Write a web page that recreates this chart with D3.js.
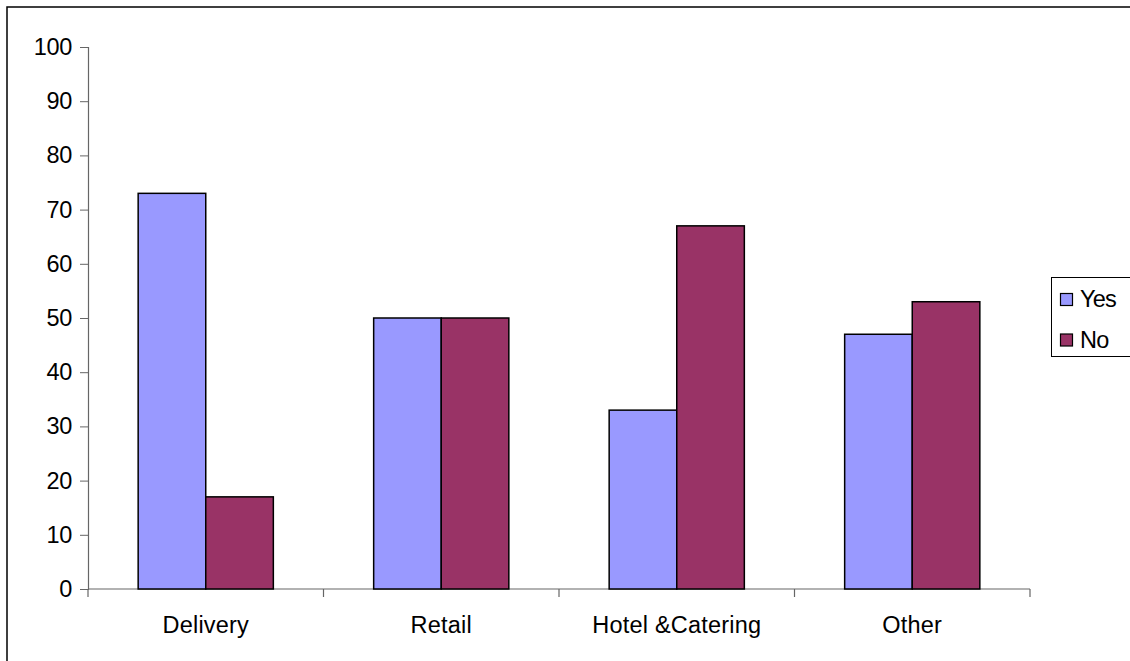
<!DOCTYPE html>
<html><head><meta charset="utf-8">
<script src="https://cdn.jsdelivr.net/npm/d3@7"></script>
<style>body{margin:0;background:#fff}svg{display:block;font-family:"Liberation Sans",Arial,sans-serif}</style>
</head><body>
<svg id="c" width="1130" height="661"></svg>
<script>
const categories = ["Delivery", "Retail", "Hotel &Catering", "Other"];
const seriesNames = ["Yes", "No"];
const yesValues = [73, 50, 33, 47];
const noValues = [17, 50, 67, 53];
const yTicks = [0, 10, 20, 30, 40, 50, 60, 70, 80, 90, 100];
const colors = ["#9999ff", "#993366"];

(function () {
const FS = 23.5;
const svg = d3.select("#c");
svg.append("rect").attr("x", 7).attr("y", 7).attr("width", 1140).attr("height", 680)
  .attr("fill", "none").attr("stroke", "#000").attr("stroke-width", 1.5);

const pL = 88, pR = 1030, pT = 47, pB = 589;
const x = d3.scaleBand().domain(categories).range([pL, pR]).paddingInner(0.426).paddingOuter(0.213);
const x1 = d3.scaleBand().domain(seriesNames).range([0, x.bandwidth()]);
const y = d3.scaleLinear().domain([0, 100]).range([pB, pT]);

// y axis
const ya = svg.append("g").attr("transform", `translate(${pL},0)`)
  .call(d3.axisLeft(y).tickValues(yTicks).tickSize(8).tickPadding(8));
ya.attr("font-size", FS).attr("font-family", "Liberation Sans, Arial, sans-serif");
ya.select(".domain").attr("stroke", "#666").attr("stroke-width", 1.2);
ya.selectAll(".tick line").attr("stroke", "#666");
ya.selectAll("text").attr("fill", "#000").attr("letter-spacing", -0.3);

// x axis
const xa = svg.append("g").attr("transform", `translate(0,${pB})`)
  .call(d3.axisBottom(x).tickSize(0).tickPadding(27));
xa.attr("font-size", FS).attr("font-family", "Liberation Sans, Arial, sans-serif");
xa.select(".domain").remove();
xa.selectAll("text").attr("fill", "#000").attr("letter-spacing", 0.2);
svg.append("line").attr("x1", pL).attr("x2", pR).attr("y1", pB).attr("y2", pB)
  .attr("stroke", "#666").attr("stroke-width", 1.2);
const bounds = categories.map((c) => x(c) - x.step() * x.paddingInner() / 2);
bounds.push(pR);
svg.selectAll(".xt").data(bounds).enter().append("line")
  .attr("x1", d => d).attr("x2", d => d).attr("y1", pB).attr("y2", pB + 8)
  .attr("stroke", "#666").attr("stroke-width", 1.2);

// bars
const data = categories.map((c, i) => ({ c, vals: [yesValues[i], noValues[i]] }));
const g = svg.selectAll(".grp").data(data).enter().append("g")
  .attr("transform", d => `translate(${x(d.c)},0)`);
g.selectAll("rect").data(d => d.vals.map((v, j) => ({ s: seriesNames[j], v, j }))).enter().append("rect")
  .attr("x", d => x1(d.s)).attr("width", x1.bandwidth())
  .attr("y", d => y(d.v)).attr("height", d => y(0) - y(d.v))
  .attr("fill", d => colors[d.j]).attr("stroke", "#000").attr("stroke-width", 1.5);

// legend
const lg = svg.append("g");
lg.append("rect").attr("x", 1051.5).attr("y", 277.5).attr("width", 80).attr("height", 79)
  .attr("fill", "#fff").attr("stroke", "#000").attr("stroke-width", 1);
seriesNames.forEach((s, i) => {
  const yy = 299.5 + i * 40.5;
  lg.append("rect").attr("x", 1060.5).attr("y", yy - 6).attr("width", 12).attr("height", 12)
    .attr("fill", colors[i]).attr("stroke", "#000").attr("stroke-width", 1.2);
  lg.append("text").attr("x", 1080).attr("y", yy + 7.5).attr("font-size", FS)
    .attr("letter-spacing", -0.8).text(s);
});
})();
</script>
</body></html>
